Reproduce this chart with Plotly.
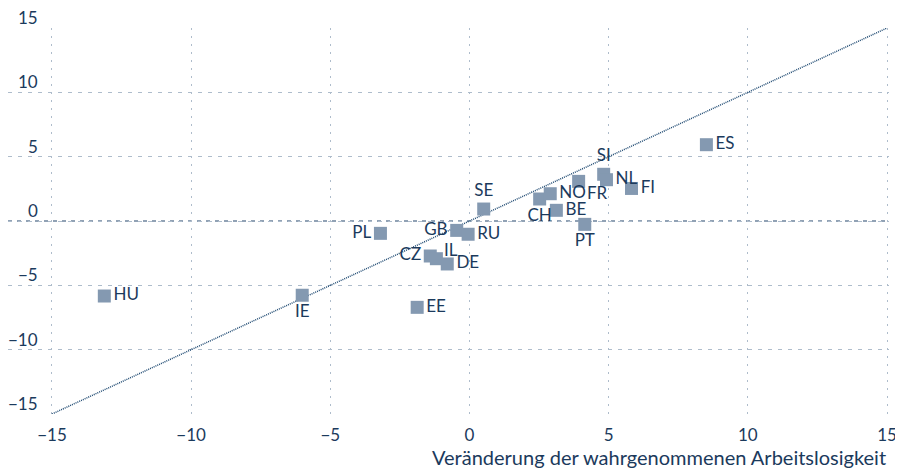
import plotly.graph_objects as go

countries = ["HU", "IE", "EE", "PL", "GB", "RU", "CZ", "IL", "DE", "SE",
             "CH", "NO", "BE", "PT", "FR", "SI", "NL", "FI", "ES"]
x_vals = [-13.12, -6.01, -1.88, -3.20, -0.46, -0.05, -1.41, -1.19, -0.80, 0.51,
          2.52, 2.90, 3.12, 4.14, 3.92, 4.82, 4.92, 5.82, 8.51]
y_vals = [-5.83, -5.77, -6.71, -0.96, -0.73, -1.03, -2.72, -2.93, -3.34, 0.93,
          1.71, 2.12, 0.83, -0.26, 3.08, 3.63, 3.21, 2.53, 5.93]
text_pos = ["middle right", "bottom center", "middle right", "middle left", "middle left",
            "middle right", "middle left", "top right", "middle right", "top center",
            "bottom center", "middle right", "middle right", "bottom center", "bottom right",
            "top center", "middle right", "middle right", "middle right"]
# labels placed by pixel offset instead of textposition (crowded spots)
shifted_labels = {"IL": (15, 9), "FR": (19, -11)}

tick_vals = [-15, -10, -5, 0, 5, 10, 15]
tick_text = ["−15", "−10", "−5", "0", "5", "10", "15"]
x_title = "Veränderung der wahrgenommenen Arbeitslosigkeit"

diag = [-15, 15]

NAVY = "#1b3a5c"
MARK = "#8499b1"
GRID = "#aebccb"
FONT = "Lato"

W, H = 895, 460
ML, MR, MT, MB = 0, 14, 20, 54
PW = W - ML - MR

trace_text = ["" if c in shifted_labels else c for c in countries]

fig = go.Figure()
fig.add_trace(go.Scatter(x=diag, y=diag, mode="lines",
                         line=dict(color="#1f4a72", width=1.5, dash="1px,1px"),
                         hoverinfo="skip", showlegend=False))
fig.add_trace(go.Scatter(x=x_vals, y=y_vals, mode="markers+text", text=trace_text,
                         hovertext=countries, hoverinfo="text+x+y",
                         textposition=text_pos,
                         textfont=dict(family=FONT, size=17, color=NAVY),
                         marker=dict(symbol="square", size=13, color=MARK),
                         showlegend=False, cliponaxis=False))

for c, xv, yv in zip(countries, x_vals, y_vals):
    if c in shifted_labels:
        dx, dy = shifted_labels[c]
        fig.add_annotation(x=xv, y=yv, text=c, showarrow=False, xshift=dx, yshift=dy,
                           font=dict(family=FONT, size=17, color=NAVY))

fig.add_shape(type="line", xref="paper", yref="y", x0=0, x1=1, y0=0, y1=0,
              line=dict(color="#6e849d", width=1.3, dash="4px,5px"), layer="below")

for v, t in zip(tick_vals, tick_text):
    fig.add_annotation(xref="paper", yref="y", x=32 / PW, y=v, text=t,
                       xanchor="right", yanchor="bottom", yshift=-2, showarrow=False,
                       font=dict(family=FONT, size=17, color=NAVY))

fig.add_annotation(xref="x", yref="paper", x=15.05, y=-0.111, text=x_title,
                   xanchor="right", yanchor="middle", showarrow=False,
                   font=dict(family=FONT, size=20, color=NAVY))

fig.update_layout(
    width=W, height=H,
    margin=dict(l=ML, r=MR, t=MT, b=MB),
    plot_bgcolor="white", paper_bgcolor="white",
    font=dict(family=FONT, size=17, color=NAVY),
    xaxis=dict(range=[-16.58, 15.07], tickvals=tick_vals, ticktext=tick_text,
               showgrid=True, gridcolor=GRID, gridwidth=1.2, griddash="2px,6px",
               zeroline=False, showline=False, ticks="outside", ticklen=6,
               tickcolor="rgba(0,0,0,0)", tickfont=dict(family=FONT, size=17, color=NAVY)),
    yaxis=dict(range=[-15, 15], tickvals=tick_vals, showticklabels=False,
               showgrid=True, gridcolor=GRID, gridwidth=1.2, griddash="4px,6px",
               zeroline=False, showline=False),
)

fig.write_html("out.html")
